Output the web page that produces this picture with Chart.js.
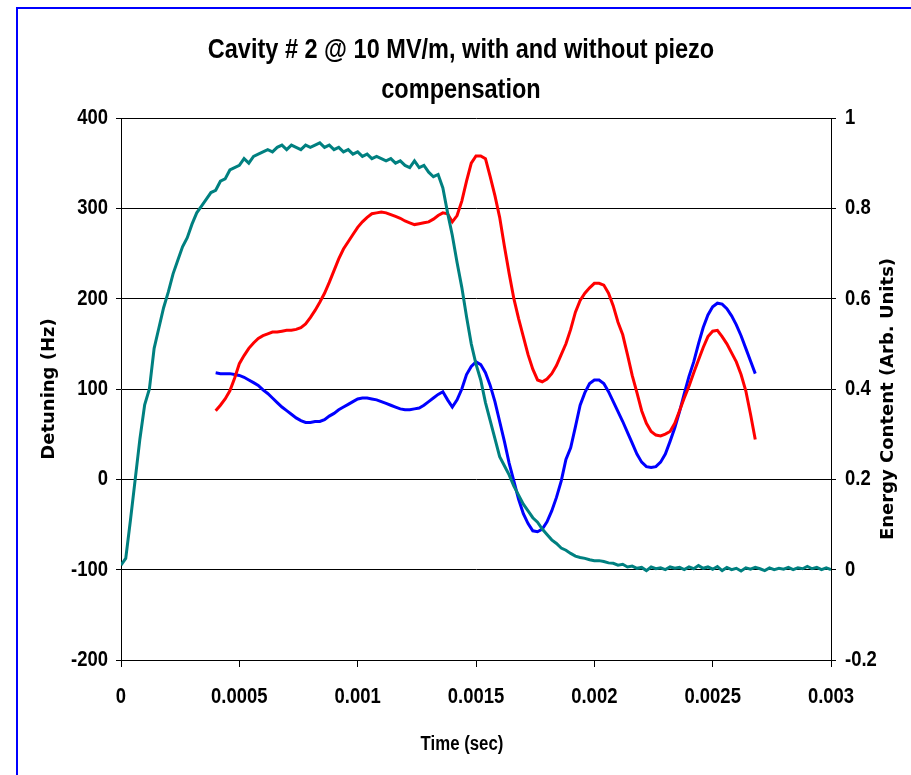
<!DOCTYPE html>
<html>
<head>
<meta charset="utf-8">
<title>Cavity # 2 @ 10 MV/m</title>
<script src="https://cdn.jsdelivr.net/npm/chart.js@4.4.1/dist/chart.umd.min.js"></script>
<style>
  html, body { margin: 0; padding: 0; background: #fff; }
  #wrap { position: relative; width: 911px; height: 775px; overflow: hidden; }
  #chart { position: absolute; left: 0; top: 0; }
  /* blue frame of the original slide, only left and top edges are visible */
  #frame { position: absolute; left: 16px; top: 7px; right: -10px; bottom: -10px;
           border: 2px solid #0000ff; pointer-events: none; }
</style>
</head>
<body>
<div id="wrap">
  <canvas id="chart" width="911" height="775"></canvas>
  <div id="frame"></div>
</div>
<script>
const SANS = "'Liberation Sans', Arial, sans-serif";
const WIDE = "'DejaVu Sans', Verdana, sans-serif";
const NARROW_X = 0.84; // horizontal squeeze to imitate Arial Narrow

const titleLines = ['Cavity # 2 @ 10 MV/m, with and without piezo', 'compensation'];
const xTitle = 'Time (sec)';
const y1Title = 'Energy Content (Arb. Units)';

// sample times in microseconds (20 us step)
const timeUs = [
  0, 20, 40, 60, 80, 100, 120, 140, 160, 180,
  200, 220, 240, 260, 280, 300, 320, 340, 360, 380,
  400, 420, 440, 460, 480, 500, 520, 540, 560, 580,
  600, 620, 640, 660, 680, 700, 720, 740, 760, 780,
  800, 820, 840, 860, 880, 900, 920, 940, 960, 980,
  1000, 1020, 1040, 1060, 1080, 1100, 1120, 1140, 1160, 1180,
  1200, 1220, 1240, 1260, 1280, 1300, 1320, 1340, 1360, 1380,
  1400, 1420, 1440, 1460, 1480, 1500, 1520, 1540, 1560, 1580,
  1600, 1620, 1640, 1660, 1680, 1700, 1720, 1740, 1760, 1780,
  1800, 1820, 1840, 1860, 1880, 1900, 1920, 1940, 1960, 1980,
  2000, 2020, 2040, 2060, 2080, 2100, 2120, 2140, 2160, 2180,
  2200, 2220, 2240, 2260, 2280, 2300, 2320, 2340, 2360, 2380,
  2400, 2420, 2440, 2460, 2480, 2500, 2520, 2540, 2560, 2580,
  2600, 2620, 2640, 2660, 2680, 2700, 2720, 2740, 2760, 2780,
  2800, 2820, 2840, 2860, 2880, 2900, 2920, 2940, 2960, 2980,
  3000
];

// energy content (arb. units), right axis
const energy = [
  0.01, 0.025, 0.11, 0.20, 0.29, 0.365, 0.40, 0.49, 0.535, 0.58,
  0.615, 0.655, 0.685, 0.715, 0.735, 0.765, 0.79, 0.805, 0.82, 0.835,
  0.84, 0.86, 0.865, 0.885, 0.89, 0.895, 0.91, 0.90, 0.915, 0.92,
  0.925, 0.93, 0.925, 0.935, 0.94, 0.93, 0.94, 0.935, 0.93, 0.94,
  0.935, 0.94, 0.945, 0.935, 0.94, 0.93, 0.935, 0.925, 0.93, 0.92,
  0.925, 0.915, 0.92, 0.91, 0.915, 0.91, 0.905, 0.91, 0.90, 0.905,
  0.895, 0.89, 0.905, 0.89, 0.895, 0.88, 0.87, 0.875, 0.845, 0.79,
  0.74, 0.68, 0.625, 0.56, 0.50, 0.455, 0.42, 0.37, 0.33, 0.29,
  0.25, 0.23, 0.21, 0.185, 0.165, 0.145, 0.13, 0.115, 0.105, 0.09,
  0.078, 0.066, 0.058, 0.048, 0.043, 0.036, 0.03, 0.027, 0.025, 0.022,
  0.02, 0.02, 0.018, 0.015, 0.014, 0.01, 0.012, 0.006, 0.008, 0.003,
  0.005, -0.002, 0.006, 0.002, 0.004, 0.0, 0.006, 0.003, 0.005, 0.0,
  0.006, 0.002, 0.009, 0.003, 0.006, 0.001, 0.007, -0.002, 0.005, 0.0,
  0.003, -0.003, 0.004, 0.001, 0.005, 0.002, -0.002, 0.004, 0.0, 0.003,
  0.001, 0.005, 0.0, 0.004, 0.002, 0.007, 0.002, 0.005, 0.0, 0.004,
  0.0
];

// detuning traces start at 400 us (index 20 of timeUs)
const detuningStart = 20;

// detuning without piezo compensation (Hz)
const detuningOff = [
  76, 82, 89, 98, 112, 128, 137, 145, 151, 156,
  159, 161, 163, 163, 164, 165, 165, 166, 168, 172,
  179, 187, 196, 206, 218, 231, 244, 255, 263, 271,
  279, 285, 290, 294, 295, 296, 295, 293, 291, 289,
  286, 284, 282, 283, 284, 285, 288, 292, 295, 294,
  285, 292, 308, 330, 350, 358, 358, 355, 335, 314,
  290, 258, 228, 200, 178, 158, 138, 122, 110, 108,
  111, 117, 126, 138, 150, 166, 185, 198, 206, 212,
  217, 217, 215, 206, 192, 174, 160, 138, 115, 96,
  76, 62, 53, 49, 48, 50, 53, 62, 76, 90,
  103, 118, 132, 146, 158, 164, 165, 158, 150, 140,
  130, 116, 98, 72, 44
];

// detuning with piezo compensation (Hz)
const detuningOn = [
  118, 117, 117, 117, 116, 115, 113, 110, 107, 104,
  99, 95, 90, 85, 80, 76, 72, 68, 65, 63,
  63, 64, 64, 66, 70, 73, 77, 80, 83, 86,
  89, 90, 90, 89, 88, 86, 84, 82, 80, 78,
  77, 77, 78, 79, 82, 86, 90, 94, 97, 88,
  80, 88, 100, 116, 125, 130, 127, 118, 104, 86,
  64, 42, 18, -2, -22, -38, -49, -57, -58, -55,
  -47, -35, -20, -2, 22, 35, 58, 82, 96, 106,
  110, 110, 106, 97, 86, 75, 64, 52, 40, 28,
  19, 14, 13, 14, 19, 28, 42, 57, 75, 95,
  114, 130, 150, 168, 182, 191, 195, 194, 189, 181,
  171, 159, 145, 131, 117
];

function toPoints(values, offset) {
  return values.map((v, i) => ({ x: timeUs[i + offset] / 1e6, y: v }));
}

const fmt = (v, d) => String(parseFloat(v.toFixed(d)));

// squeezed text, the original used Arial Narrow which is not installed
function narrowText(ctx, text, x, y, size, align) {
  ctx.save();
  ctx.font = 'bold ' + size + 'px ' + SANS;
  ctx.fillStyle = '#000';
  ctx.textAlign = align;
  ctx.textBaseline = 'middle';
  ctx.translate(x, y);
  ctx.scale(NARROW_X, 1);
  ctx.fillText(text, 0, 0);
  ctx.restore();
}

const narrowLabels = {
  id: 'narrowLabels',
  afterDraw(chart) {
    const ctx = chart.ctx;
    const { x, y, y1 } = chart.scales;

    narrowText(ctx, titleLines[0], 461, 50, 28, 'center');
    narrowText(ctx, titleLines[1], 461, 90, 28, 'center');

    x.ticks.forEach(t => {
      narrowText(ctx, fmt(t.value, 6), x.getPixelForValue(t.value), 697, 22, 'center');
    });
    y.ticks.forEach(t => {
      narrowText(ctx, fmt(t.value, 0), y.right - 13, y.getPixelForValue(t.value), 22, 'right');
    });
    y1.ticks.forEach(t => {
      narrowText(ctx, fmt(t.value, 2), y1.left + 14, y1.getPixelForValue(t.value), 22, 'left');
    });

    narrowText(ctx, xTitle, 462, 744, 20, 'center');

    // right axis title, read bottom to top like the left one
    ctx.save();
    ctx.font = 'bold 18px ' + WIDE;
    ctx.fillStyle = '#000';
    ctx.textAlign = 'center';
    ctx.textBaseline = 'middle';
    ctx.translate(888, 399);
    ctx.rotate(-Math.PI / 2);
    ctx.fillText(y1Title, 0, 0);
    ctx.restore();
  }
};

const axisTitleFont = { family: WIDE, size: 18, weight: 'bold', lineHeight: 1.2 };

new Chart(document.getElementById('chart'), {
  type: 'line',
  data: {
    datasets: [
      {
        label: 'Energy Content',
        data: toPoints(energy, 0),
        yAxisID: 'y1',
        borderColor: '#008080',
        borderWidth: 3,
        pointRadius: 0,
        tension: 0,
        order: 0
      },
      {
        label: 'Without piezo',
        data: toPoints(detuningOff, detuningStart),
        yAxisID: 'y',
        borderColor: '#ff0000',
        borderWidth: 3,
        pointRadius: 0,
        tension: 0,
        order: 1
      },
      {
        label: 'With piezo',
        data: toPoints(detuningOn, detuningStart),
        yAxisID: 'y',
        borderColor: '#0000ff',
        borderWidth: 3,
        pointRadius: 0,
        tension: 0,
        order: 2
      }
    ]
  },
  options: {
    responsive: false,
    animation: false,
    layout: { padding: { top: 118 } },
    plugins: {
      legend: { display: false },
      tooltip: { enabled: false },
      title: { display: false }
    },
    scales: {
      x: {
        type: 'linear',
        min: 0,
        max: 0.003,
        afterFit: s => { s.height = 115; },
        ticks: { display: false, stepSize: 0.0005, autoSkip: false },
        grid: { drawOnChartArea: false, drawTicks: true, tickLength: 7, color: '#000' },
        border: { display: true, color: '#000', width: 1 }
      },
      y: {
        position: 'left',
        min: -200,
        max: 400,
        afterFit: s => { s.width = 121; },
        ticks: { display: false, stepSize: 100 },
        grid: { color: '#000', lineWidth: 1, tickLength: 5 },
        border: { display: true, color: '#000', width: 1 },
        title: {
          display: true,
          text: 'Detuning (Hz)',
          color: '#000',
          font: axisTitleFont,
          padding: { top: 39, bottom: 0 }
        }
      },
      y1: {
        position: 'right',
        min: -0.2,
        max: 1,
        afterFit: s => { s.width = 80; },
        ticks: { display: false, stepSize: 0.2 },
        grid: { drawOnChartArea: false, color: '#000', tickLength: 5 },
        border: { display: true, color: '#000', width: 1 }
      }
    }
  },
  plugins: [narrowLabels]
});
</script>
</body>
</html>
